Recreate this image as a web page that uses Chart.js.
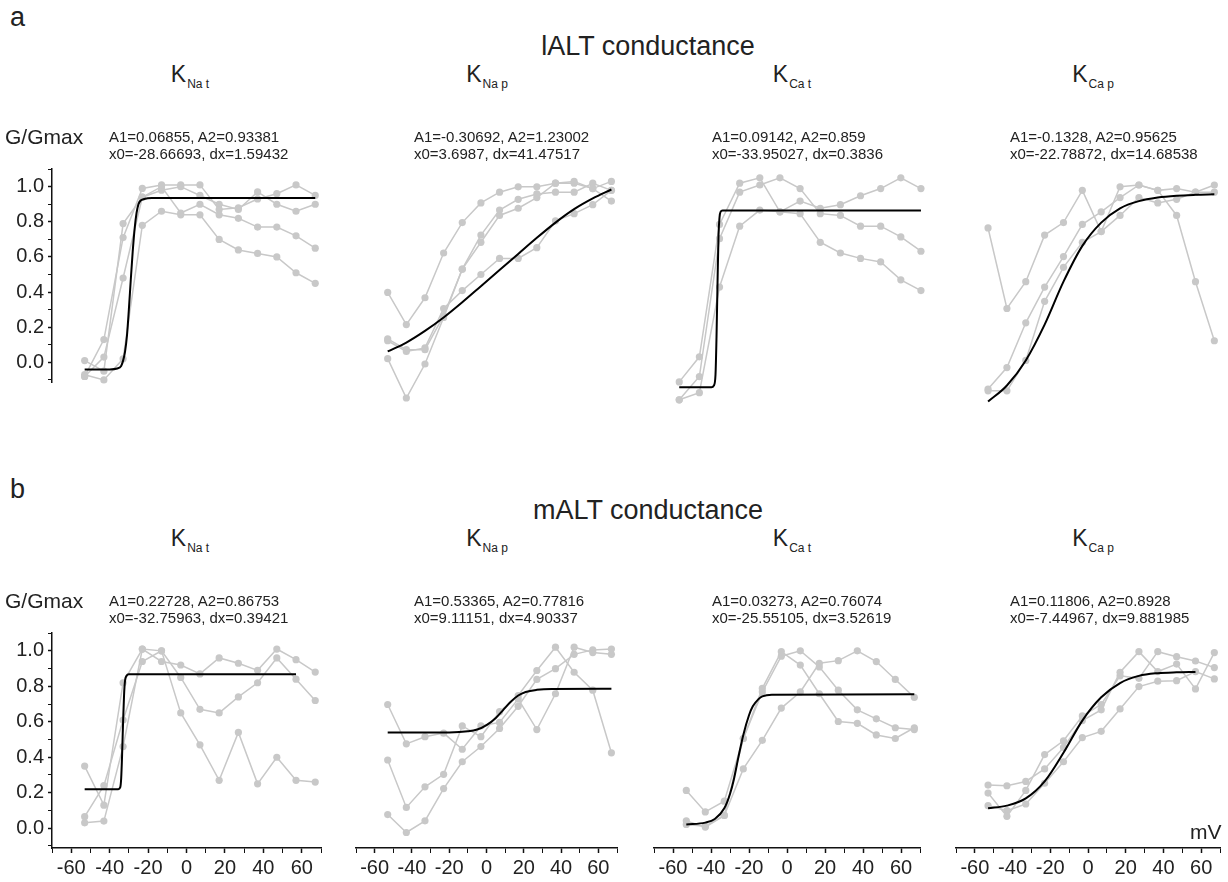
<!DOCTYPE html>
<html>
<head>
<meta charset="utf-8">
<script src="https://cdn.jsdelivr.net/npm/chart.js@4.4.1/dist/chart.umd.min.js"></script>
<style>
  body { margin: 0; background: #fff; width: 1228px; height: 882px; position: relative; overflow: hidden;
         font-family: "Liberation Sans", Arial, sans-serif; color: #222; }
  .t { position: absolute; white-space: nowrap; }
  .big { font-size: 27px; }
  .mid { transform: translateX(-50%); }
  .ptitle { font-size: 23px; transform: translateX(-50%); }
  .ptitle sub { font-size: 12px; vertical-align: -6px; margin-left: 1px; }
  .fit { font-size: 15px; line-height: 17px; }
  .ylab { font-size: 21px; }
  canvas { position: absolute; }
</style>
</head>
<body>
<script>
// membrane potential of the recorded points (mV)
const mV = [-53, -43, -33, -23, -13, -3, 7, 17, 27, 37, 47, 57, 67];
const yTicks = [-0.1, 0, 0.1, 0.2, 0.3, 0.4, 0.5, 0.6, 0.7, 0.8, 0.9, 1.0, 1.1];
const xTicks = [-70, -60, -50, -40, -30, -20, -10, 0, 10, 20, 30, 40, 50, 60, 70];

// a: lALT
const lNaT = [
  [-0.08, 0.13, 0.71, 0.99, 1.01, 1.01, 1.01, 0.87, 0.88, 0.93, 0.96, 1.01, 0.95],
  [0.01, -0.05, 0.79, 0.94, 0.98, 1.00, 0.95, 0.90, 0.87, 0.97, 0.90, 0.86, 0.90],
  [-0.08, 0.03, 0.48, 0.94, 1.00, 0.85, 0.90, 0.84, 0.82, 0.77, 0.77, 0.72, 0.65],
  [-0.07, -0.10, 0.02, 0.78, 0.86, 0.84, 0.84, 0.70, 0.64, 0.62, 0.60, 0.51, 0.45]
];
const lNaTFitX = [-53, -40, -36, -34, -33, -32, -31, -30, -29, -28, -27, -26, -25, -24, -22, -18, 67];
const lNaTFitY = [-0.04, -0.04, -0.035, -0.02, 0.01, 0.06, 0.15, 0.30, 0.47, 0.63, 0.76, 0.85, 0.90, 0.92, 0.93, 0.935, 0.935];

const lNaP = [
  [0.40, 0.22, 0.37, 0.62, 0.79, 0.90, 0.96, 0.99, 0.99, 1.01, 1.01, 0.98, 1.02],
  [0.14, 0.08, 0.08, 0.27, 0.53, 0.72, 0.86, 0.92, 0.95, 0.96, 0.96, 1.01, 0.97],
  [0.03, -0.19, 0.00, 0.26, 0.53, 0.68, 0.83, 0.87, 0.93, 1.01, 1.02, 0.98, 0.91],
  [0.13, 0.07, 0.09, 0.31, 0.41, 0.50, 0.59, 0.59, 0.65, 0.80, 0.84, 0.89, 0.97]
];
const lNaPFitX = mV;
const lNaPFitY = [0.07, 0.12, 0.185, 0.26, 0.345, 0.435, 0.525, 0.615, 0.705, 0.79, 0.865, 0.925, 0.975];

const lCaT = [
  [-0.10, 0.04, 0.78, 1.01, 1.04, 0.85, 0.91, 0.87, 0.89, 0.94, 0.98, 1.04, 0.98],
  [-0.20, -0.07, 0.70, 0.96, 1.00, 1.04, 0.98, 0.84, 0.83, 0.77, 0.77, 0.71, 0.63],
  [-0.20, -0.16, 0.43, 0.77, 0.86, 0.85, 0.84, 0.68, 0.62, 0.59, 0.57, 0.47, 0.41]
];
const lCaTFitX = [-53, -37, -35.8, -35, -34.5, -34, -33.5, -33, -32.5, -31.5, 67];
const lCaTFitY = [-0.13, -0.13, -0.12, -0.06, 0.15, 0.45, 0.72, 0.82, 0.85, 0.857, 0.857];

const lCaP = [
  [0.76, 0.31, 0.46, 0.72, 0.79, 0.97, 0.74, 0.99, 1.00, 0.97, 0.83, 0.46, 0.13],
  [-0.14, -0.02, 0.23, 0.43, 0.60, 0.78, 0.85, 0.93, 1.00, 0.97, 0.98, 0.96, 1.00],
  [-0.15, -0.15, 0.02, 0.35, 0.54, 0.68, 0.74, 0.83, 0.93, 0.90, 0.92, 0.96, 0.96]
];
const lCaPFitX = mV;
const lCaPFitY = [-0.21, -0.12, 0.02, 0.22, 0.46, 0.66, 0.79, 0.87, 0.91, 0.93, 0.94, 0.945, 0.948];

// b: mALT
const mNaT = [
  [0.35, 0.13, 0.82, 1.01, 0.94, 0.92, 0.87, 0.96, 0.93, 0.89, 1.01, 0.95, 0.88],
  [0.065, 0.24, 0.61, 0.94, 1.00, 0.85, 0.67, 0.65, 0.74, 0.82, 0.96, 0.84, 0.72],
  [0.03, 0.04, 0.46, 1.01, 1.00, 0.65, 0.47, 0.27, 0.54, 0.25, 0.40, 0.27, 0.26]
];
const mNaTFitX = [-53, -35.5, -34.5, -34, -33.5, -33, -32.5, -32, -31.2, -30, 57];
const mNaTFitY = [0.22, 0.22, 0.23, 0.28, 0.42, 0.60, 0.75, 0.83, 0.86, 0.868, 0.868];

const mNaP = [
  [0.69, 0.47, 0.51, 0.53, 0.44, 0.57, 0.59, 0.72, 0.55, 0.75, 1.01, 0.98, 0.97],
  [0.38, 0.115, 0.23, 0.30, 0.57, 0.51, 0.65, 0.74, 0.88, 1.01, 0.87, 0.77, 0.42],
  [0.075, -0.025, 0.04, 0.22, 0.37, 0.455, 0.556, 0.68, 0.83, 0.89, 0.97, 0.995, 1.00]
];
const mNaPFitX = [-53, -20, -10, -5, 0, 5, 9, 13, 17, 21, 27, 35, 67];
const mNaPFitY = [0.533, 0.534, 0.54, 0.55, 0.575, 0.615, 0.66, 0.705, 0.74, 0.76, 0.772, 0.777, 0.778];

const mCaT = [
  [0.02, 0.01, 0.07, 0.33, 0.49, 0.67, 0.76, 0.92, 0.935, 0.99, 0.93, 0.83, 0.73],
  [0.21, 0.09, 0.15, 0.50, 0.78, 0.985, 0.91, 0.75, 0.595, 0.585, 0.52, 0.50, 0.56],
  [0.04, 0.005, 0.07, 0.50, 0.76, 0.96, 0.99, 0.90, 0.77, 0.66, 0.61, 0.56, 0.55]
];
const mCaTFitX = [-53, -43, -38, -33, -30, -28, -25.5, -23, -20, -18, -15, -13, -8, 67];
const mCaTFitY = [0.02, 0.03, 0.05, 0.11, 0.19, 0.27, 0.40, 0.52, 0.63, 0.68, 0.72, 0.735, 0.745, 0.747];

const mCaP = [
  [0.24, 0.236, 0.26, 0.33, 0.45, 0.60, 0.66, 0.87, 0.985, 0.874, 0.916, 0.777, 0.98],
  [0.195, 0.065, 0.21, 0.41, 0.487, 0.626, 0.69, 0.85, 0.836, 0.985, 0.957, 0.933, 0.896],
  [0.125, 0.097, 0.134, 0.25, 0.37, 0.505, 0.54, 0.665, 0.79, 0.82, 0.823, 0.874, 0.833]
];
const mCaPFitX = [-53, -43, -33, -23, -13, -3, 7, 17, 27, 37, 47, 57];
const mCaPFitY = [0.11, 0.125, 0.165, 0.26, 0.42, 0.60, 0.73, 0.81, 0.85, 0.865, 0.87, 0.872];

const fitText = [
  ['A1=0.06855, A2=0.93381', 'x0=-28.66693, dx=1.59432'],
  ['A1=-0.30692, A2=1.23002', 'x0=3.6987, dx=41.47517'],
  ['A1=0.09142, A2=0.859', 'x0=-33.95027, dx=0.3836'],
  ['A1=-0.1328, A2=0.95625', 'x0=-22.78872, dx=14.68538'],
  ['A1=0.22728, A2=0.86753', 'x0=-32.75963, dx=0.39421'],
  ['A1=0.53365, A2=0.77816', 'x0=9.11151, dx=4.90337'],
  ['A1=0.03273, A2=0.76074', 'x0=-25.55105, dx=3.52619'],
  ['A1=0.11806, A2=0.8928', 'x0=-7.44967, dx=9.881985']
];
const subs = ['Na t', 'Na p', 'Ca t', 'Ca p'];

const PX = 179; // pixels per 1.0 of G/Gmax
const GRAY = '#c8c8c8';

function text(html, cls, left, top) {
  const d = document.createElement('div');
  d.className = 't ' + cls;
  d.style.left = left + 'px';
  d.style.top = top + 'px';
  d.innerHTML = html;
  document.body.appendChild(d);
}

function addPanel(p, recs, fitX, fitY) {
  const hi = p.hide ? 215 : 197, lo = p.hide ? 54 : 20;
  const yw = p.showY ? 50 : 0, xh = p.showX ? 40 : 0;
  const pl = p.showY ? 0 : 14, pr = 14, pt = 14, pb = p.showX ? 0 : 14;
  const cv = document.createElement('canvas');
  cv.width = pl + yw + (p.R - p.L) + pr;
  cv.height = pt + hi + lo + xh + pb;
  cv.style.left = (p.L - yw - pl) + 'px';
  cv.style.top = (p.zero - hi - pt) + 'px';
  document.body.appendChild(cv);

  const datasets = [{
    data: fitX.map((x, i) => ({ x, y: fitY[i] })),
    borderColor: '#000', borderWidth: 2, pointRadius: 0,
    cubicInterpolationMode: 'monotone', order: 0, clip: false
  }];
  recs.forEach(s => datasets.push({
    data: mV.map((x, i) => ({ x, y: s[i] })),
    borderColor: GRAY, backgroundColor: GRAY, borderWidth: 1.5,
    pointRadius: 3.6, pointBorderWidth: 0, tension: 0, order: 1, clip: false
  }));

  const tickFont = { family: 'Liberation Sans', size: 20 };
  new Chart(cv, {
    type: 'line',
    data: { datasets },
    options: {
      responsive: false, animation: false, events: [],
      layout: { padding: { left: pl, right: pr, top: pt, bottom: pb } },
      plugins: { legend: { display: false }, tooltip: { enabled: false } },
      scales: {
        x: {
          type: 'linear', min: -70, max: 70, display: p.showX,
          afterBuildTicks: s => { s.ticks = xTicks.map(v => ({ value: v })); },
          afterFit: s => { s.height = xh; },
          border: { display: true, color: '#111', width: 1.5 },
          grid: { drawOnChartArea: false, tickLength: 5, tickColor: '#111',
                  tickWidth: c => (c.tick && c.tick.value % 20 === 0 ? 1.5 : 1) },
          ticks: { font: tickFont, color: '#222', padding: 3, maxRotation: 0, autoSkip: false,
                   callback: v => (v % 20 === 0 && Math.abs(v) <= 60 ? String(v) : '') }
        },
        y: {
          min: -lo / PX, max: hi / PX, display: p.showY,
          afterBuildTicks: s => { s.ticks = yTicks.map(v => ({ value: v })); },
          afterFit: s => { s.width = yw; },
          border: { display: true, color: '#111', width: 1.5 },
          grid: { drawOnChartArea: false, tickLength: 4, tickColor: '#111',
                  tickWidth: c => (c.tick && Math.round(c.tick.value * 10) % 2 === 0 ? 1.5 : 1) },
          ticks: { font: tickFont, color: '#222', padding: 4, autoSkip: false,
                   callback: v => (Math.round(v * 10) % 2 === 0 ? v.toFixed(1) : '') }
        }
      }
    }
  });
}

// layout of the eight panels: x span for -70..70 mV and y pixel of G/Gmax = 0
const cols = [[52, 321], [356, 617], [645, 927], [956, 1220]];
const colsB = [[52, 321], [356, 617], [654, 920], [956, 1220]];
const titleX = [190, 487, 792, 1093];
const noteX = [109, 414, 712, 1010];

const rowA = [[lNaT, lNaTFitX, lNaTFitY], [lNaP, lNaPFitX, lNaPFitY], [lCaT, lCaTFitX, lCaTFitY], [lCaP, lCaPFitX, lCaPFitY]];
const rowB = [[mNaT, mNaTFitX, mNaTFitY], [mNaP, mNaPFitX, mNaPFitY], [mCaT, mCaTFitX, mCaTFitY], [mCaP, mCaPFitX, mCaPFitY]];

rowA.forEach((d, c) => addPanel({ L: cols[c][0], R: cols[c][1], zero: 364, showY: c === 0, showX: false, hide: c > 0 }, d[0], d[1], d[2]));
rowB.forEach((d, c) => addPanel({ L: colsB[c][0], R: colsB[c][1], zero: 828, showY: c === 0, showX: true, hide: false }, d[0], d[1], d[2]));

// texts
text('a', 'big', 10, 2);
text('b', 'big', 10, 474);
text('lALT conductance', 'big mid', 648, 31);
text('mALT conductance', 'big mid', 648, 495);
[0, 464].forEach((dy, r) => {
  subs.forEach((s, c) => {
    text('K<sub>' + s + '</sub>', 'ptitle', titleX[c], 61 + dy);
    const f = fitText[r * 4 + c];
    text(f[0] + '<br>' + f[1], 'fit', noteX[c], 128 + dy);
  });
  text('G/Gmax', 'ylab', 5, 125 + dy);
});
text('mV', 'ylab', 1190, 820);
</script>
</body>
</html>
